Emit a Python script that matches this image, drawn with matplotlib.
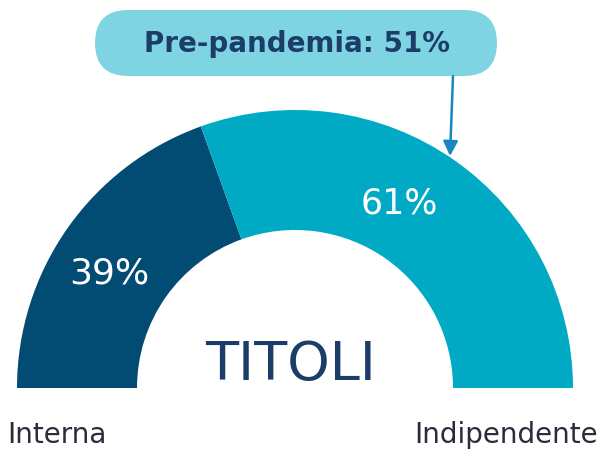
import matplotlib.pyplot as plt
from matplotlib.patches import Wedge, FancyBboxPatch

categories = ['Interna', 'Indipendente']
values = [39, 61]
pre_pandemia = 51
title = 'TITOLI'

colors = ['#024c74', '#00aac5']
navy = '#1b3d68'

fig = plt.figure(figsize=(6, 4.49), dpi=100)
ax = fig.add_axes([0, 0, 1, 1])
ax.set_xlim(0, 600)
ax.set_ylim(0, 449)
ax.axis('off')

cx, cy = 295, 61
R, r = 278, 158

# half donut, left to right
start = 180
for val, col in zip(values, colors):
    sweep = val / sum(values) * 180
    ax.add_patch(Wedge((cx, cy), R, start - sweep, start, width=R - r,
                       facecolor=col, edgecolor='none'))
    start -= sweep

ax.text(109, 176, f'{values[0]}%', color='white', fontsize=26,
        ha='center', va='center')
ax.text(399, 245, f'{values[1]}%', color='white', fontsize=25,
        ha='center', va='center')

ax.text(291, 84, title, color=navy, fontsize=39, ha='center', va='center')

ax.text(7, 14, categories[0], color='#2b2b3b', fontsize=20, ha='left', va='center')
ax.text(598, 14, categories[1], color='#2b2b3b', fontsize=20, ha='right', va='center')

# pre-pandemia callout
box = FancyBboxPatch((95 + 33, 373 + 33), 402 - 66, 0,
                     boxstyle='round,pad=33,rounding_size=33',
                     facecolor='#7fd4e2', edgecolor='none')
ax.add_patch(box)
ax.text(297, 405, f'Pre-pandemia: {pre_pandemia}%', color=navy, fontsize=20,
        fontweight='bold', ha='center', va='center')

ax.annotate('', xy=(450, 293), xytext=(453, 373),
            arrowprops=dict(arrowstyle='-|>', color='#1a86c0', lw=1.8,
                            mutation_scale=22, shrinkA=0, shrinkB=0))

fig.savefig('out.png', dpi=100)
